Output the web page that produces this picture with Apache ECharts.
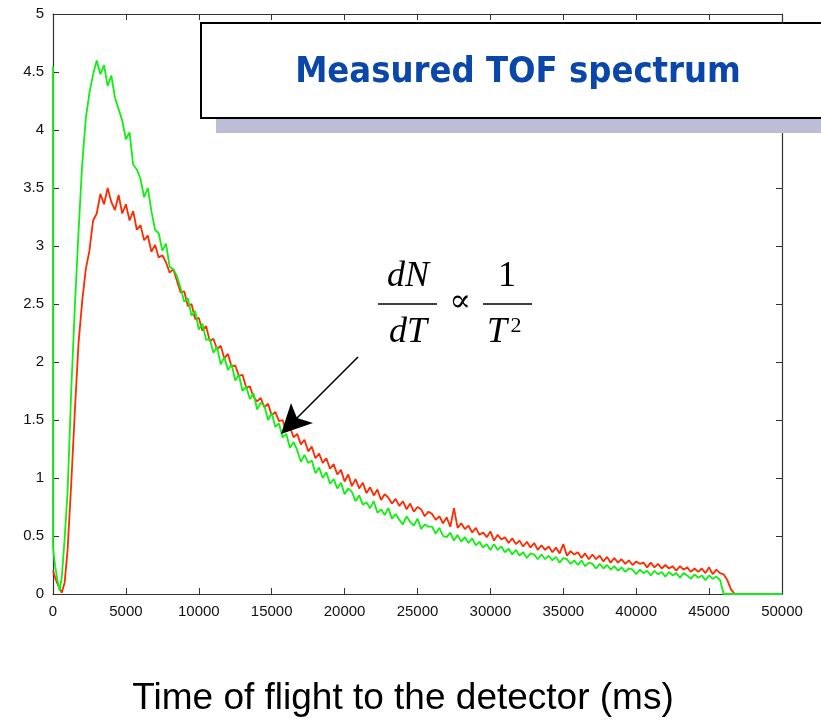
<!DOCTYPE html>
<html lang="en">

<head>
    <meta charset="UTF-8">
    <title>Measured TOF spectrum</title>
    <style>
        html, body { margin: 0; padding: 0; background: #fff; }
        #chart { width: 821px; height: 720px; }
    </style>
</head>

<body>
    <div id="chart"></div>
</body>
<script src="https://cdn.jsdelivr.net/npm/echarts@6/dist/echarts.min.js"></script>

<script>
    // sample times (ms)
    var times = [0, 0, 150, 300, 450, 600, 800,
        1000, 1250, 1500, 1750, 2000, 2250, 2500, 2750, 3000, 3250,
        3500, 3750, 4000, 4250, 4500, 4750, 5000, 5250, 5500, 5750,
        6000, 6250, 6500, 6750, 7000, 7250, 7500, 7750, 8000, 8250,
        8500, 8750, 9000, 9250, 9500, 9750, 10000, 10250, 10500, 10750,
        11000, 11250, 11500, 11750, 12000, 12250, 12500, 12750, 13000, 13250,
        13500, 13750, 14000, 14250, 14500, 14750, 15000, 15250, 15500, 15750,
        16000, 16250, 16500, 16750, 17000, 17250, 17500, 17750, 18000, 18250,
        18500, 18750, 19000, 19250, 19500, 19750, 20000, 20250, 20500, 20750,
        21000, 21250, 21500, 21750, 22000, 22250, 22500, 22750, 23000, 23250,
        23500, 23750, 24000, 24250, 24500, 24750, 25000, 25250, 25500, 25750,
        26000, 26250, 26500, 26750, 27000, 27250, 27500, 27750, 28000, 28250,
        28500, 28750, 29000, 29250, 29500, 29750, 30000, 30250, 30500, 30750,
        31000, 31250, 31500, 31750, 32000, 32250, 32500, 32750, 33000, 33250,
        33500, 33750, 34000, 34250, 34500, 34750, 35000, 35250, 35500, 35750,
        36000, 36250, 36500, 36750, 37000, 37250, 37500, 37750, 38000, 38250,
        38500, 38750, 39000, 39250, 39500, 39750, 40000, 40250, 40500, 40750,
        41000, 41250, 41500, 41750, 42000, 42250, 42500, 42750, 43000, 43250,
        43500, 43750, 44000, 44250, 44500, 44750, 45000, 45250, 45500, 45750,
        46000, 46250, 46500, 46750,
        50000]

    // red trace
    var redCounts = [0.20, 0.20, 0.14, 0.09, 0.05, 0.01, 0.10,
        0.38, 0.95, 1.58, 2.16, 2.52, 2.80, 2.96, 3.22, 3.28, 3.45,
        3.36, 3.50, 3.38, 3.31, 3.44, 3.28, 3.36, 3.22, 3.30, 3.14,
        3.18, 3.05, 3.09, 2.95, 3.01, 2.90, 2.92, 2.86, 2.77, 2.80,
        2.70, 2.60, 2.61, 2.48, 2.50, 2.37, 2.38, 2.27, 2.31, 2.18,
        2.20, 2.11, 2.14, 2.03, 2.07, 1.96, 1.97, 1.88, 1.89, 1.78,
        1.79, 1.70, 1.66, 1.69, 1.61, 1.64, 1.54, 1.57, 1.49, 1.50,
        1.40, 1.44, 1.35, 1.38, 1.29, 1.33, 1.23, 1.27, 1.17, 1.21,
        1.13, 1.17, 1.08, 1.12, 1.03, 1.07, 0.97, 1.03, 0.93, 0.99,
        0.91, 0.96, 0.87, 0.92, 0.85, 0.90, 0.81, 0.86, 0.83, 0.78,
        0.82, 0.76, 0.80, 0.73, 0.78, 0.71, 0.75, 0.73, 0.67, 0.71,
        0.69, 0.64, 0.67, 0.61, 0.66, 0.58, 0.74, 0.57, 0.61, 0.56,
        0.59, 0.53, 0.57, 0.51, 0.53, 0.49, 0.54, 0.46, 0.51, 0.47,
        0.49, 0.44, 0.48, 0.43, 0.46, 0.41, 0.45, 0.40, 0.44, 0.38,
        0.42, 0.38, 0.41, 0.36, 0.40, 0.35, 0.43, 0.33, 0.37, 0.34,
        0.36, 0.31, 0.35, 0.30, 0.34, 0.30, 0.33, 0.28, 0.32, 0.27,
        0.31, 0.27, 0.30, 0.26, 0.29, 0.25, 0.28, 0.26, 0.27, 0.23,
        0.27, 0.23, 0.26, 0.22, 0.25, 0.22, 0.24, 0.20, 0.24, 0.21,
        0.23, 0.19, 0.22, 0.19, 0.22, 0.18, 0.23, 0.17, 0.21, 0.18,
        0.17, 0.12, 0.04, 0,
        0]

    // green trace
    var greenCounts = [4.55, 0.40, 0.24, 0.12, 0.03, 0.14, 0.48,
        0.88, 1.75, 2.48, 3.12, 3.70, 4.10, 4.32, 4.48, 4.60, 4.48,
        4.56, 4.38, 4.47, 4.28, 4.18, 4.08, 3.92, 3.98, 3.70, 3.66,
        3.58, 3.42, 3.50, 3.30, 3.14, 3.11, 2.96, 3.02, 2.82, 2.80,
        2.74, 2.64, 2.52, 2.55, 2.40, 2.44, 2.28, 2.33, 2.19, 2.20,
        2.08, 2.13, 1.98, 2.04, 1.93, 1.98, 1.84, 1.89, 1.75, 1.79,
        1.68, 1.73, 1.59, 1.65, 1.62, 1.50, 1.56, 1.44, 1.47, 1.35,
        1.38, 1.26, 1.31, 1.24, 1.14, 1.20, 1.13, 1.15, 1.04, 1.09,
        1.00, 1.05, 0.95, 0.99, 0.91, 0.96, 0.86, 0.91, 0.88, 0.80,
        0.85, 0.77, 0.79, 0.74, 0.80, 0.70, 0.73, 0.68, 0.74, 0.65,
        0.69, 0.64, 0.60, 0.67, 0.62, 0.59, 0.65, 0.56, 0.60, 0.58,
        0.58, 0.52, 0.57, 0.50, 0.49, 0.53, 0.46, 0.51, 0.45, 0.49,
        0.44, 0.48, 0.42, 0.45, 0.40, 0.43, 0.38, 0.43, 0.38, 0.41,
        0.36, 0.39, 0.34, 0.38, 0.33, 0.36, 0.31, 0.35, 0.34, 0.30,
        0.34, 0.30, 0.33, 0.29, 0.32, 0.27, 0.31, 0.30, 0.26, 0.29,
        0.25, 0.29, 0.24, 0.27, 0.26, 0.22, 0.26, 0.22, 0.25, 0.21,
        0.24, 0.20, 0.23, 0.19, 0.22, 0.21, 0.17, 0.21, 0.18, 0.20,
        0.16, 0.20, 0.17, 0.19, 0.15, 0.19, 0.16, 0.18, 0.14, 0.18,
        0.16, 0.13, 0.17, 0.14, 0.16, 0.12, 0.16, 0.13, 0.15, 0.12,
        0, 0, 0, 0,
        0]

    var xTitle = 'Time of flight to the detector (ms)'
    var chartTitle = 'Measured TOF spectrum'

    function pairs(ys) {
        var out = []
        for (var i = 0; i < times.length; i++) {
            out.push([times[i], ys[i]])
        }
        return out
    }

    var tickFont = { fontSize: 15, color: '#111', fontFamily: 'Liberation Sans, Arial, sans-serif' }
    var axisLineStyle = { color: '#333', width: 1.2 }

    var myChart = echarts.init(document.getElementById('chart'))

    var option = {
        animation: false,
        backgroundColor: '#fff',
        grid: { left: 53, right: 39, top: 14, bottom: 126 },
        xAxis: [
            {
                type: 'value', position: 'bottom', min: 0, max: 50000, interval: 5000,
                axisLine: { show: true, onZero: false, lineStyle: axisLineStyle },
                axisTick: { show: true, inside: true, length: 6, lineStyle: { color: '#333' } },
                splitLine: { show: false },
                axisLabel: Object.assign({ margin: 10, formatter: function (v) { return String(v) } }, tickFont)
            },
            {
                type: 'value', position: 'top', min: 0, max: 50000, interval: 5000,
                axisLine: { show: true, onZero: false, lineStyle: axisLineStyle },
                axisTick: { show: true, inside: true, length: 6, lineStyle: { color: '#333' } },
                splitLine: { show: false },
                axisLabel: { show: false }
            }
        ],
        yAxis: [
            {
                type: 'value', position: 'left', min: 0, max: 5, interval: 0.5,
                axisLine: { show: true, onZero: false, lineStyle: axisLineStyle },
                axisTick: { show: true, inside: true, length: 6, lineStyle: { color: '#333' } },
                splitLine: { show: false },
                axisLabel: Object.assign({ margin: 9 }, tickFont)
            },
            {
                type: 'value', position: 'right', min: 0, max: 5, interval: 0.5,
                axisLine: { show: true, onZero: false, lineStyle: axisLineStyle },
                axisTick: { show: true, inside: true, length: 6, lineStyle: { color: '#333' } },
                splitLine: { show: false },
                axisLabel: { show: false }
            }
        ],
        series: [
            {
                type: 'line', xAxisIndex: 0, yAxisIndex: 0,
                data: pairs(redCounts), showSymbol: false, symbol: 'none',
                lineStyle: { color: '#ff2a00', width: 1.8 }, z: 3
            },
            {
                type: 'line', xAxisIndex: 0, yAxisIndex: 0,
                data: pairs(greenCounts), showSymbol: false, symbol: 'none',
                lineStyle: { color: '#10f010', width: 1.8 }, z: 4
            }
        ],
        graphic: [
            // title box with shadow
            { type: 'rect', z: 100, shape: { x: 216, y: 34, width: 620, height: 99 }, style: { fill: '#bcbdd6' } },
            { type: 'rect', z: 101, shape: { x: 201, y: 23, width: 640, height: 95 }, style: { fill: '#fff', stroke: '#000', lineWidth: 2 } },
            {
                type: 'text', z: 102, x: 518, y: 73,
                style: { text: chartTitle, fill: '#0a47a8', font: 'bold 36px "DejaVu Sans Condensed", "DejaVu Sans", sans-serif', textAlign: 'center', textVerticalAlign: 'middle' }
            },
            // formula dN/dT ~ 1/T^2
            { type: 'text', z: 102, x: 408, y: 277, style: { text: 'dN', fill: '#000', font: 'italic 36px "Liberation Serif", serif', textAlign: 'center', textVerticalAlign: 'middle' } },
            { type: 'line', z: 102, shape: { x1: 378, y1: 304, x2: 437, y2: 304 }, style: { stroke: '#000', lineWidth: 1.5 } },
            { type: 'text', z: 102, x: 408, y: 333, style: { text: 'dT', fill: '#000', font: 'italic 36px "Liberation Serif", serif', textAlign: 'center', textVerticalAlign: 'middle' } },
            { type: 'text', z: 102, x: 460, y: 303, style: { text: '\u221D', fill: '#000', font: '32px "DejaVu Serif", serif', textAlign: 'center', textVerticalAlign: 'middle' } },
            { type: 'text', z: 102, x: 507, y: 277, style: { text: '1', fill: '#000', font: '36px "Liberation Serif", serif', textAlign: 'center', textVerticalAlign: 'middle' } },
            { type: 'line', z: 102, shape: { x1: 483, y1: 304, x2: 532, y2: 304 }, style: { stroke: '#000', lineWidth: 1.5 } },
            { type: 'text', z: 102, x: 497, y: 333, style: { text: 'T', fill: '#000', font: 'italic 36px "Liberation Serif", serif', textAlign: 'center', textVerticalAlign: 'middle' } },
            { type: 'text', z: 102, x: 516, y: 326, style: { text: '2', fill: '#000', font: '22px "Liberation Serif", serif', textAlign: 'center', textVerticalAlign: 'middle' } },
            // arrow
            { type: 'line', z: 102, shape: { x1: 358, y1: 357, x2: 296, y2: 419 }, style: { stroke: '#000', lineWidth: 1.6 } },
            { type: 'polygon', z: 102, shape: { points: [[281, 434], [291, 403], [297, 418], [313, 423]] }, style: { fill: '#000' } },
            // x axis title
            {
                type: 'text', z: 102, x: 403, y: 699,
                style: { text: xTitle, fill: '#000', font: '37px "Liberation Sans", Arial, sans-serif', textAlign: 'center', textVerticalAlign: 'middle' }
            }
        ]
    }
    myChart.setOption(option)
</script>

</html>
